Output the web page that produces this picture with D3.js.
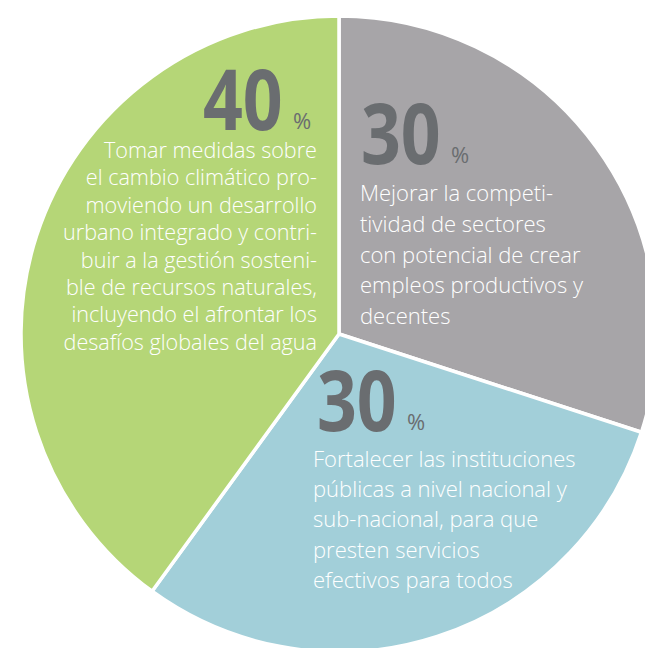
<!DOCTYPE html>
<html>
<head>
<meta charset="utf-8">
<script src="https://cdn.jsdelivr.net/npm/d3@7"></script>
<style>
  html, body { margin: 0; padding: 0; background: #fff; }
  svg { display: block; }
</style>
</head>
<body>
<div id="chart"></div>
<script>
// data, clockwise from 12 o'clock
const categories = ['competitividad', 'instituciones', 'clima']
const values = [30, 30, 40]
const colors = ['#a7a5a8', '#a2cfd9', '#b5d677']
const descriptions = [
  ['Mejorar la competi-', 'tividad de sectores', 'con potencial de crear', 'empleos productivos y', 'decentes'],
  ['Fortalecer las instituciones', 'públicas a nivel nacional y', 'sub-nacional, para que', 'presten servicios', 'efectivos para todos'],
  ['Tomar medidas sobre', 'el cambio climático pro-', 'moviendo un desarrollo', 'urbano integrado y contri-', 'buir a la gestión sosteni-', 'ble de recursos naturales,', 'incluyendo el afrontar los', 'desafíos globales del agua']
]

const width = 645
const height = 648
const cx = 339
const cy = 334
const radius = 318

// label layout relative to the pie center
const labelLayout = [
  { numX: 22, numY: -170, anchor: 'start', textX: 21, textY: -133, lineH: 30.8, size: 22 },
  { numX: -22, numY: 97, anchor: 'start', textX: -26, textY: 133, lineH: 30.2, size: 22 },
  { numX: -136, numY: -204, anchor: 'end', textX: -22, textY: -176, lineH: 27.4, size: 21.6 }
]

const svg = d3.select('#chart')
  .append('svg')
  .attr('width', width)
  .attr('height', height)

const g = svg.append('g')
  .attr('transform', `translate(${cx},${cy})`)

const pie = d3.pie().sort(null).value((d) => d)
const arc = d3.arc().innerRadius(0).outerRadius(radius)
const arcs = pie(values)

g.selectAll('path')
  .data(arcs)
  .join('path')
  .attr('d', arc)
  .attr('fill', (d, i) => colors[i])
  .attr('stroke', '#fff')
  .attr('stroke-width', 3.5)
  .attr('stroke-linejoin', 'round')

const labels = g.selectAll('g.label')
  .data(arcs)
  .join('g')
  .attr('class', 'label')

labels.each(function (d, i) {
  const lay = labelLayout[i]
  const sel = d3.select(this)

  // big number, squeezed horizontally to look like the condensed original
  sel.append('text')
    .attr('transform', `translate(${lay.numX},${lay.numY}) scale(0.83,1)`)
    .attr('font-family', '"Open Sans", "Noto Sans", sans-serif')
    .attr('font-weight', 700)
    .attr('font-size', 84)
    .attr('fill', '#6a6d70')
    .text(d.data)

  sel.append('text')
    .attr('x', lay.numX + 90)
    .attr('y', lay.numY - 1)
    .attr('font-family', '"Open Sans", "Noto Sans", sans-serif')
    .attr('font-size', 22)
    .attr('fill', '#6a6d70')
    .text('%')

  sel.append('text')
    .attr('text-anchor', lay.anchor)
    .attr('font-family', '"Open Sans", "Noto Sans", sans-serif')
    .attr('font-weight', 300)
    .attr('font-size', lay.size)
    .attr('fill', '#fff')
    .selectAll('tspan')
    .data(descriptions[i])
    .join('tspan')
    .attr('x', lay.textX)
    .attr('y', (t, j) => lay.textY + j * lay.lineH)
    .text((t) => t)
})
</script>
</body>
</html>
